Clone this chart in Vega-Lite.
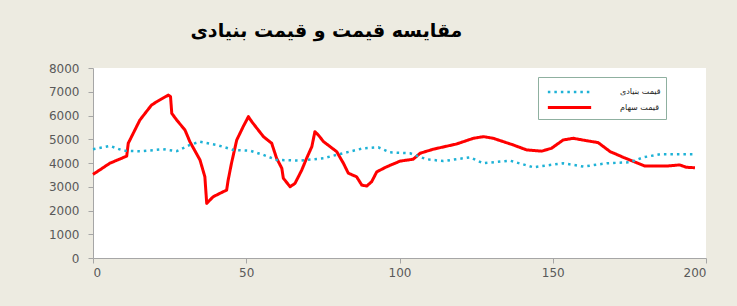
{
  "$schema": "https://vega.github.io/schema/vega-lite/v6.json",
  "autosize": "none",
  "width": 613,
  "height": 190,
  "padding": {"left": 93, "top": 68, "right": 31, "bottom": 48},
  "background": "#EDEBE1",
  "config": {
    "view": {"fill": "white", "stroke": null},
    "font": "DejaVu Sans",
    "axis": {"grid": false, "domainColor": "#A6A6A6", "tickColor": "#A6A6A6", "labelColor": "#595959", "labelFontSize": 12, "labelFont": "DejaVu Sans", "tickSize": 5, "title": null}
  },
  "title": {"text": "مقایسه قیمت و قیمت بنیادی", "font": "DejaVu Sans", "fontSize": 19, "fontWeight": "bold", "color": "#000000", "anchor": "start", "dx": 142, "offset": 21},
  "data": {"values": [
    {"x": 0, "v": 3520, "s": "قیمت سهام"},
    {"x": 5.5, "v": 3990, "s": "قیمت سهام"},
    {"x": 11, "v": 4290, "s": "قیمت سهام"},
    {"x": 11.5, "v": 4830, "s": "قیمت سهام"},
    {"x": 15.3, "v": 5810, "s": "قیمت سهام"},
    {"x": 19.1, "v": 6440, "s": "قیمت سهام"},
    {"x": 20.8, "v": 6580, "s": "قیمت سهام"},
    {"x": 24.6, "v": 6860, "s": "قیمت سهام"},
    {"x": 25.3, "v": 6790, "s": "قیمت سهام"},
    {"x": 25.7, "v": 6090, "s": "قیمت سهام"},
    {"x": 27.3, "v": 5810, "s": "قیمت سهام"},
    {"x": 30, "v": 5390, "s": "قیمت سهام"},
    {"x": 31.6, "v": 4900, "s": "قیمت سهام"},
    {"x": 34.9, "v": 4130, "s": "قیمت سهام"},
    {"x": 36.5, "v": 3420, "s": "قیمت سهام"},
    {"x": 37.1, "v": 2300, "s": "قیمت سهام"},
    {"x": 39.2, "v": 2580, "s": "قیمت سهام"},
    {"x": 43.6, "v": 2860, "s": "قیمت سهام"},
    {"x": 44.1, "v": 3280, "s": "قیمت سهام"},
    {"x": 45.2, "v": 4000, "s": "قیمت سهام"},
    {"x": 46.9, "v": 4970, "s": "قیمت سهام"},
    {"x": 49, "v": 5530, "s": "قیمت سهام"},
    {"x": 50.7, "v": 5950, "s": "قیمت سهام"},
    {"x": 51.8, "v": 5740, "s": "قیمت سهام"},
    {"x": 55.6, "v": 5110, "s": "قیمت سهام"},
    {"x": 58.3, "v": 4830, "s": "قیمت سهام"},
    {"x": 59.9, "v": 4200, "s": "قیمت سهام"},
    {"x": 61.6, "v": 3780, "s": "قیمت سهام"},
    {"x": 62.1, "v": 3360, "s": "قیمت سهام"},
    {"x": 64.3, "v": 3000, "s": "قیمت سهام"},
    {"x": 65.9, "v": 3140, "s": "قیمت سهام"},
    {"x": 68.1, "v": 3700, "s": "قیمت سهام"},
    {"x": 69.7, "v": 4200, "s": "قیمت سهام"},
    {"x": 71.4, "v": 4690, "s": "قیمت سهام"},
    {"x": 72.4, "v": 5320, "s": "قیمت سهام"},
    {"x": 73.5, "v": 5180, "s": "قیمت سهام"},
    {"x": 75.2, "v": 4900, "s": "قیمت سهام"},
    {"x": 79.5, "v": 4480, "s": "قیمت سهام"},
    {"x": 81.7, "v": 3990, "s": "قیمت سهام"},
    {"x": 83.3, "v": 3570, "s": "قیمت سهام"},
    {"x": 86, "v": 3420, "s": "قیمت سهام"},
    {"x": 87.7, "v": 3070, "s": "قیمت سهام"},
    {"x": 89.3, "v": 3030, "s": "قیمت سهام"},
    {"x": 90.9, "v": 3210, "s": "قیمت سهام"},
    {"x": 92.6, "v": 3630, "s": "قیمت سهام"},
    {"x": 95.8, "v": 3840, "s": "قیمت سهام"},
    {"x": 100.2, "v": 4080, "s": "قیمت سهام"},
    {"x": 104.5, "v": 4160, "s": "قیمت سهام"},
    {"x": 106.7, "v": 4410, "s": "قیمت سهام"},
    {"x": 111, "v": 4580, "s": "قیمت سهام"},
    {"x": 118.6, "v": 4800, "s": "قیمت سهام"},
    {"x": 124.1, "v": 5040, "s": "قیمت سهام"},
    {"x": 127.4, "v": 5110, "s": "قیمت سهام"},
    {"x": 130.6, "v": 5040, "s": "قیمت سهام"},
    {"x": 137.1, "v": 4760, "s": "قیمت سهام"},
    {"x": 141.5, "v": 4550, "s": "قیمت سهام"},
    {"x": 146.4, "v": 4500, "s": "قیمت سهام"},
    {"x": 149.6, "v": 4620, "s": "قیمت سهام"},
    {"x": 153.4, "v": 4970, "s": "قیمت سهام"},
    {"x": 156.7, "v": 5040, "s": "قیمت سهام"},
    {"x": 161, "v": 4940, "s": "قیمت سهام"},
    {"x": 164.8, "v": 4860, "s": "قیمت سهام"},
    {"x": 168.7, "v": 4480, "s": "قیمت سهام"},
    {"x": 173, "v": 4240, "s": "قیمت سهام"},
    {"x": 177.4, "v": 4010, "s": "قیمت سهام"},
    {"x": 180.1, "v": 3870, "s": "قیمت سهام"},
    {"x": 187.2, "v": 3870, "s": "قیمت سهام"},
    {"x": 191.4, "v": 3920, "s": "قیمت سهام"},
    {"x": 193.6, "v": 3820, "s": "قیمت سهام"},
    {"x": 196.4, "v": 3800, "s": "قیمت سهام"},
    {"x": 0, "v": 4580, "s": "قیمت بنیادی"},
    {"x": 5.5, "v": 4720, "s": "قیمت بنیادی"},
    {"x": 9.9, "v": 4520, "s": "قیمت بنیادی"},
    {"x": 15.3, "v": 4490, "s": "قیمت بنیادی"},
    {"x": 22.9, "v": 4580, "s": "قیمت بنیادی"},
    {"x": 27.3, "v": 4500, "s": "قیمت بنیادی"},
    {"x": 31.6, "v": 4760, "s": "قیمت بنیادی"},
    {"x": 34.9, "v": 4900, "s": "قیمت بنیادی"},
    {"x": 40.4, "v": 4760, "s": "قیمت بنیادی"},
    {"x": 45.8, "v": 4550, "s": "قیمت بنیادی"},
    {"x": 51.2, "v": 4520, "s": "قیمت بنیادی"},
    {"x": 55.6, "v": 4340, "s": "قیمت بنیادی"},
    {"x": 59.9, "v": 4130, "s": "قیمت بنیادی"},
    {"x": 67.5, "v": 4100, "s": "قیمت بنیادی"},
    {"x": 75.2, "v": 4200, "s": "قیمت بنیادی"},
    {"x": 80.6, "v": 4380, "s": "قیمت بنیادی"},
    {"x": 88.2, "v": 4620, "s": "قیمت بنیادی"},
    {"x": 93.1, "v": 4660, "s": "قیمت بنیادی"},
    {"x": 96.9, "v": 4450, "s": "قیمت بنیادی"},
    {"x": 103.4, "v": 4410, "s": "قیمت بنیادی"},
    {"x": 108.8, "v": 4160, "s": "قیمت بنیادی"},
    {"x": 114.3, "v": 4080, "s": "قیمت بنیادی"},
    {"x": 123, "v": 4240, "s": "قیمت بنیادی"},
    {"x": 127.3, "v": 3990, "s": "قیمت بنیادی"},
    {"x": 136, "v": 4100, "s": "قیمت بنیادی"},
    {"x": 143.7, "v": 3820, "s": "قیمت بنیادی"},
    {"x": 153.4, "v": 3990, "s": "قیمت بنیادی"},
    {"x": 160, "v": 3850, "s": "قیمت بنیادی"},
    {"x": 167.6, "v": 3990, "s": "قیمت بنیادی"},
    {"x": 175.2, "v": 4030, "s": "قیمت بنیادی"},
    {"x": 179.6, "v": 4240, "s": "قیمت بنیادی"},
    {"x": 185, "v": 4370, "s": "قیمت بنیادی"},
    {"x": 195.9, "v": 4370, "s": "قیمت بنیادی"}
  ]},
  "mark": {"type": "line", "strokeJoin": "round", "strokeCap": "butt"},
  "encoding": {
    "x": {"field": "x", "type": "quantitative", "scale": {"domain": [0, 200], "nice": false, "zero": false}, "axis": {"values": [0, 50, 100, 150, 200], "labelPadding": 4, "format": "d"}},
    "y": {"field": "v", "type": "quantitative", "scale": {"domain": [0, 8000], "nice": false}, "axis": {"values": [0, 1000, 2000, 3000, 4000, 5000, 6000, 7000, 8000], "labelPadding": 9, "format": "d"}},
    "color": {"field": "s", "type": "nominal", "scale": {"domain": ["قیمت بنیادی", "قیمت سهام"], "range": ["#1EB2D6", "#FF0000"]},
      "legend": {"title": null, "orient": "none", "legendX": 445, "legendY": 9, "strokeColor": "#8FB0A0", "fillColor": "white", "padding": 5, "labelFontSize": 8, "labelColor": "#222222", "symbolStrokeWidth": 2.5, "symbolSize": 300, "symbolType": "M-2.5,0H2.5", "symbolOffset": 16, "rowPadding": 0, "labelOffset": 40}},
    "strokeDash": {"field": "s", "type": "nominal", "scale": {"domain": ["قیمت بنیادی", "قیمت سهام"], "range": [[2.5, 4], [1, 0]]}, "legend": {"title": null}},
    "strokeWidth": {"field": "s", "type": "nominal", "scale": {"domain": ["قیمت بنیادی", "قیمت سهام"], "range": [2.5, 3]}, "legend": null}
  }
}
